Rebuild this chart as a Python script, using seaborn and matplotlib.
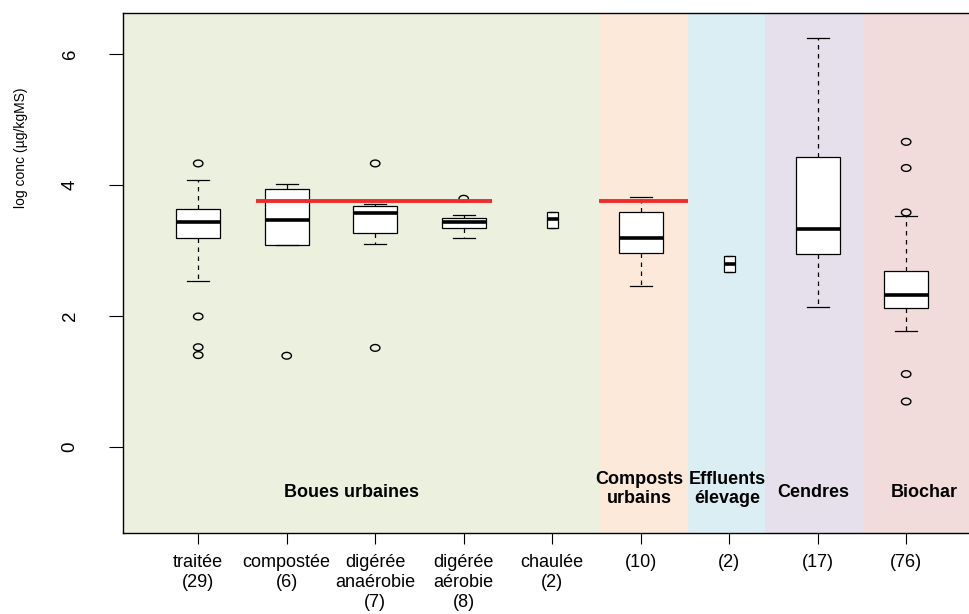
import numpy as np
import pandas as pd
import matplotlib
matplotlib.use("Agg")
import matplotlib.pyplot as plt
from matplotlib import font_manager
import seaborn as sns
from matplotlib.path import Path

# ---------------- data ----------------
cat_ids = ["traitee", "compostee", "anaerobie", "aerobie", "chaulee",
           "composts", "effluents", "cendres", "biochar"]
tick_labels = ["traitée\n(29)", "compostée\n(6)", "digérée\nanaérobie\n(7)",
               "digérée\naérobie\n(8)", "chaulée\n(2)", "(10)", "(2)", "(17)", "(76)"]
whisker_low = [2.54, 3.09, 3.10, 3.19, 3.35, 2.45, 2.67, 2.14, 1.77]
q1 = [3.19, 3.09, 3.26, 3.35, 3.35, 2.96, 2.67, 2.94, 2.12]
median = [3.44, 3.47, 3.57, 3.44, 3.48, 3.19, 2.79, 3.33, 2.32]
q3 = [3.64, 3.94, 3.68, 3.49, 3.59, 3.58, 2.91, 4.43, 2.68]
whisker_high = [4.08, 4.01, 3.71, 3.54, 3.59, 3.82, 2.91, 6.25, 3.52]
narrow_cats = ["chaulee", "effluents"]

outlier_cat = ["traitee", "traitee", "traitee", "traitee", "compostee",
               "anaerobie", "anaerobie", "aerobie",
               "biochar", "biochar", "biochar", "biochar", "biochar"]
outlier_val = [4.33, 1.99, 1.52, 1.40, 1.39,
               4.33, 1.51, 3.79,
               4.66, 4.26, 3.58, 1.11, 0.69]

ref_level = 3.76
ref_start = [0.65, 4.53]
ref_end = [3.32, 5.53]

group_names = ["Boues urbaines", "Composts\nurbains", "Effluents\nélevage", "Cendres", "Biochar"]
group_x = [1.73, 4.99, 5.98, 6.95, 8.20]
group_y = [-0.70, -0.65, -0.65, -0.70, -0.70]

band_edges = [-0.85, 4.53, 5.53, 6.40, 7.51, 8.80]
band_colors = ["#EBF1DE", "#FDE9D9", "#DAEEF3", "#E5E0EC", "#F2DCDB"]

# ---------------- build table ----------------
pos_of = {c: i for i, c in enumerate(cat_ids)}
rows = []
for i, c in enumerate(cat_ids):
    for v in (whisker_low[i], q1[i], median[i], q3[i], whisker_high[i]):
        rows.append({"cat": c, "pos": pos_of[c], "value": v})
df = pd.DataFrame(rows)
out_df = pd.DataFrame({"pos": [pos_of[c] for c in outlier_cat], "value": outlier_val})

# ---------------- fonts ----------------
plt.rcParams["font.family"] = ["Liberation Sans", "DejaVu Sans"]
available = {f.name for f in font_manager.fontManager.ttflist}
if "Liberation Sans Narrow" in available:
    ylab_family, ylab_size = "Liberation Sans Narrow", 11.5
else:
    ylab_family, ylab_size = "Liberation Sans", 10

# ---------------- figure ----------------
W, H = 969, 614
fig = plt.figure(figsize=(W / 100, H / 100), dpi=100)
ax = fig.add_axes([123 / W, 81 / H, 846 / W, 520 / H])
ax.set_facecolor("none")

for x0, x1, col in zip(band_edges[:-1], band_edges[1:], band_colors):
    ax.axvspan(x0, x1, color=col, lw=0, zorder=0)

common = dict(x="pos", y="value", native_scale=True, whis=(0, 100), showfliers=False,
              color="white", linecolor="black", linewidth=0.9,
              medianprops=dict(linewidth=2.6, color="black", solid_capstyle="butt"),
              whiskerprops=dict(linestyle=(0, (3.6, 3.6)), linewidth=0.9),
              capprops=dict(linewidth=0.9),
              ax=ax)
wide = df[~df.cat.isin(narrow_cats)]
nar = df[df.cat.isin(narrow_cats)]
sns.boxplot(data=wide, width=0.5, **common)
nar_spacing = np.diff(np.sort(nar["pos"].unique())).min()
sns.boxplot(data=nar, width=0.128 / nar_spacing, **common)

# outliers as open (slightly wide) circles
t = np.linspace(0, 2 * np.pi, 60)
ell = Path(np.column_stack([1.4 * np.cos(t), np.sin(t)]), closed=True)
sns.scatterplot(data=out_df, x="pos", y="value", marker=ell, s=46, ax=ax, zorder=5)
coll = ax.collections[-1]
coll.set_facecolor("none")
coll.set_edgecolor("black")
coll.set_linewidth(1.0)

# reference lines
ax.hlines([ref_level] * len(ref_start), ref_start, ref_end, color="#EE2C2C", lw=2.8, zorder=10)

# group labels
for name, gx, gy in zip(group_names, group_x, group_y):
    ax.text(gx, gy, name, ha="center", va="center", fontsize=13, fontweight="bold",
            linespacing=1.15, zorder=11)

ax.set_xlim(band_edges[0], 8.71)
ax.set_ylim(-1.32, 6.63)
ax.set_xticks(range(len(cat_ids)))
ax.set_xticklabels(tick_labels, fontsize=13, va="top", linespacing=1.22)
ax.set_yticks([0, 2, 4, 6])
ax.set_yticklabels(["0", "2", "4", "6"], fontsize=13.5, rotation=90, va="center")
ax.tick_params(axis="x", length=8, width=0.8, pad=7, colors="black")
ax.tick_params(axis="y", length=10, width=0.8, pad=22, colors="black")
ax.set_xlabel("")
ax.set_ylabel("log conc (µg/kgMS)", fontsize=ylab_size, family=ylab_family)
ax.yaxis.set_label_coords(-0.112, 0.74)
for side in ["left", "top", "bottom"]:
    ax.spines[side].set_color("black")
    ax.spines[side].set_linewidth(1.0)
ax.spines["right"].set_visible(False)
ax.grid(False)

fig.savefig("out.png", dpi=100)
